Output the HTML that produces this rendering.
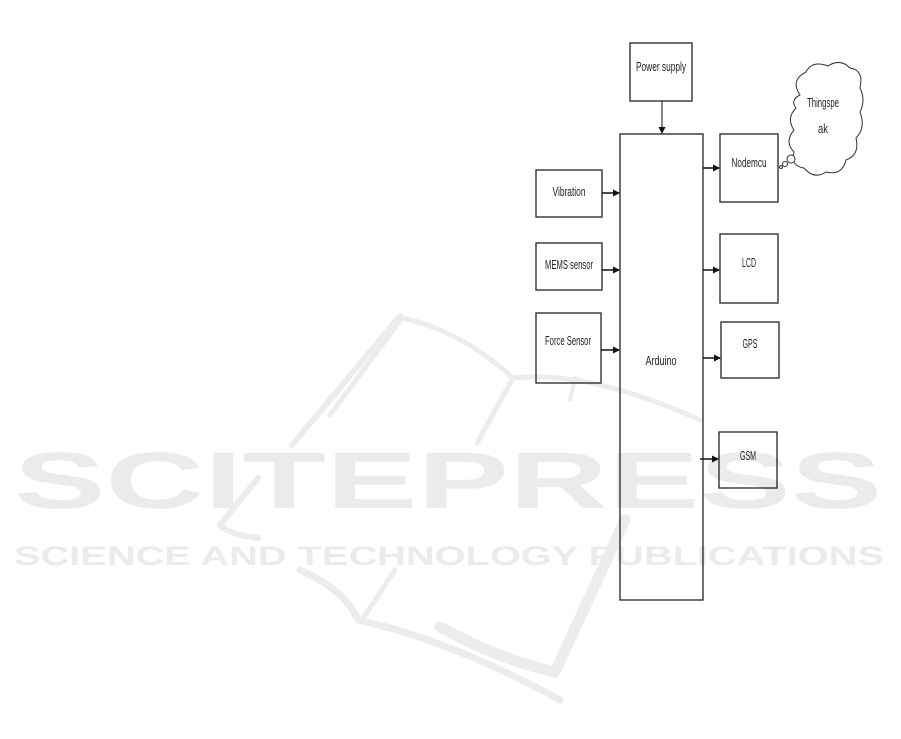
<!DOCTYPE html>
<html><head><meta charset="utf-8"><style>
html,body{margin:0;padding:0;background:#fff;}
svg{display:block;}
.t{font-family:"Liberation Sans",sans-serif;font-size:13px;fill:#222;text-anchor:middle;}
.wm{font-family:"Liberation Sans",sans-serif;font-weight:bold;fill:#ebebeb;}
</style></head><body>
<svg width="901" height="739" viewBox="0 0 901 739" xmlns="http://www.w3.org/2000/svg">
<defs><marker id="a" markerWidth="7" markerHeight="7" refX="6" refY="3.5" orient="auto" markerUnits="userSpaceOnUse"><path d="M0,0 L7,3.5 L0,7 Z" fill="#111"/></marker></defs>
<g fill="none" stroke="#ececec" stroke-linecap="round" stroke-linejoin="round">
<path d="M330,415 L402,318 Q460,330 513,378 Q590,370 700,420" stroke-width="5"/>
<path d="M513,378 L477,443" stroke-width="5"/>
<path d="M400,316 L292,445" stroke-width="6"/>
<path d="M258,478 L220,525 Q230,535 258,538" stroke-width="6"/>
<path d="M300,570 Q345,590 358,620 Q450,640 560,700" stroke-width="7"/>
<path d="M362,620 L395,570" stroke-width="5"/>
<path d="M440,627 Q500,660 555,672 L625,520" stroke-width="11"/>
<path d="M575,378 L570,400" stroke-width="4"/>
</g>
<text class="wm" x="14" y="508" font-size="80" textLength="868" lengthAdjust="spacingAndGlyphs">SCITEPRESS</text>
<text class="wm" x="14" y="565" font-size="27" textLength="870" lengthAdjust="spacingAndGlyphs">SCIENCE AND TECHNOLOGY PUBLICATIONS</text>
<g fill="none" stroke="#222" stroke-width="1.3">
<rect x="630" y="43" width="62" height="58"/>
<rect x="620" y="134" width="83" height="466"/>
<rect x="536" y="170" width="66" height="47"/>
<rect x="536" y="243" width="66" height="47"/>
<rect x="536" y="313" width="65" height="70"/>
<rect x="720" y="134" width="58" height="68"/>
<rect x="720" y="234" width="58" height="69"/>
<rect x="721" y="322" width="58" height="56"/>
<rect x="719" y="432" width="58" height="56"/>
</g>
<g stroke="#111" stroke-width="1.5">
<line x1="662" y1="101" x2="662" y2="133" marker-end="url(#a)" stroke-width="1"/>
<line x1="602" y1="193" x2="619" y2="193" marker-end="url(#a)"/>
<line x1="602" y1="270" x2="619" y2="270" marker-end="url(#a)"/>
<line x1="601" y1="350" x2="619" y2="350" marker-end="url(#a)"/>
<line x1="703" y1="168" x2="719" y2="168" marker-end="url(#a)"/>
<line x1="703" y1="270" x2="719" y2="270" marker-end="url(#a)"/>
<line x1="703" y1="358" x2="720" y2="358" marker-end="url(#a)"/>
<line x1="700" y1="459" x2="718" y2="459" marker-end="url(#a)"/>
</g>
<g fill="#fff" stroke="#333" stroke-width="1">
<path d="M800,95 Q790,80 806,72 Q812,60 828,66 Q840,58 850,68 Q864,70 860,88 Q866,100 860,112 Q866,128 856,138 Q860,155 846,160 Q842,176 826,172 Q814,180 804,168 Q790,166 794,152 Q784,142 794,130 Q786,118 796,108 Q790,100 800,95 Z"/>
<circle cx="791" cy="159" r="4"/>
<circle cx="785" cy="164" r="2.5"/>
<circle cx="781" cy="167" r="1.5"/>
</g>
<text class="t" x="661" y="71" textLength="50" lengthAdjust="spacingAndGlyphs">Power supply</text>
<text class="t" x="569" y="196" textLength="33" lengthAdjust="spacingAndGlyphs">Vibration</text>
<text class="t" x="569" y="269" textLength="48" lengthAdjust="spacingAndGlyphs">MEMS sensor</text>
<text class="t" x="568" y="345" textLength="46" lengthAdjust="spacingAndGlyphs">Force Sensor</text>
<text class="t" x="661" y="365" textLength="31" lengthAdjust="spacingAndGlyphs">Arduino</text>
<text class="t" x="749" y="167" textLength="35" lengthAdjust="spacingAndGlyphs">Nodemcu</text>
<text class="t" x="749" y="267" textLength="14" lengthAdjust="spacingAndGlyphs">LCD</text>
<text class="t" x="750" y="348" textLength="15" lengthAdjust="spacingAndGlyphs">GPS</text>
<text class="t" x="748" y="460" textLength="16" lengthAdjust="spacingAndGlyphs">GSM</text>
<text class="t" x="823" y="107" textLength="32" lengthAdjust="spacingAndGlyphs">Thingspe</text>
<text class="t" x="823" y="133" textLength="10" lengthAdjust="spacingAndGlyphs">ak</text>
</svg>
</body></html>
